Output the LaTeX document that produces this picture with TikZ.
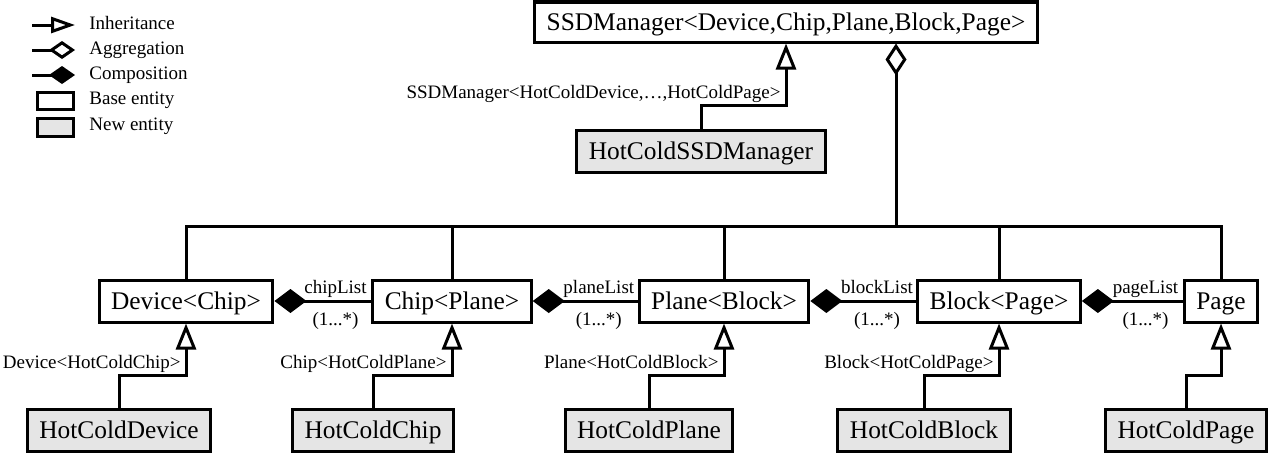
\documentclass[tikz,border=0pt]{standalone}
\usepackage{fontspec}
\setmainfont{Liberation Serif}
\usetikzlibrary{arrows.meta}

\begin{document}
\begin{tikzpicture}[x=0.5pt,y=-0.5pt,
        base/.style={draw, line width=1.5pt, fill=white, inner xsep=6pt, minimum height=21pt, text height=8.6pt, text depth=0pt, font=\fontsize{12.7}{15}\selectfont},
        new/.style={base, fill=gray!20},
        lbl/.style={font=\fontsize{9.5}{11}\selectfont, inner xsep=2pt, inner ysep=1pt, text height=6.6pt, text depth=2pt},
        conn/.style={line width=1.5pt},
        inh/.style={conn, -{Triangle[open, fill=white, length=13pt, width=10pt]}},
        agg/.style={conn, -{Diamond[open, fill=white, length=16pt, width=10.5pt]}},
        comp/.style={conn, {Diamond[length=16pt, width=12pt]}-}]
    \useasboundingbox (0,0) rectangle (1272,455);
    % legend
    \node[lbl, anchor=west] (linh) at (85,25) {Inheritance};
    \node[lbl, anchor=west] (lagg) at (85,50) {Aggregation};
    \node[lbl, anchor=west] (lcomp) at (85,75) {Composition};
    \node[lbl, anchor=west] (lbasetxt) at (85,100) {Base entity};
    \node[lbl, anchor=west] (lnewtxt) at (85,126) {New entity};
    \draw[conn, -{Triangle[open, fill=white, length=12pt, width=8pt]}] (32,25) -- (75,25);
    \draw[conn, -{Diamond[open, fill=white, length=13pt, width=9pt]}] (32,50) -- (75,50);
    \draw[conn, -{Diamond[length=13pt, width=9pt]}] (32,75) -- (75,75);
    \node[base, minimum width=18pt, minimum height=8.5pt, text height=0pt, inner sep=0pt] (lbase) at (55,101) {};
    \node[new, minimum width=18pt, minimum height=9pt, text height=0pt, inner sep=0pt] (lnew) at (55,127) {};
    % classes
    \node[base, minimum height=20pt] (ssd) at (786,22) {SSDManager<Device,Chip,Plane,Block,Page>};
    \node[new] (hssd) at (701,151) {HotColdSSDManager};
    \node[base] (dev) at (186,301) {Device<Chip>};
    \node[base] (chip) at (452,301) {Chip<Plane>};
    \node[base] (plane) at (724,301) {Plane<Block>};
    \node[base] (block) at (999,301) {Block<Page>};
    \node[base] (page) at (1221,301) {Page};
    \node[new] (hdev) at (119,430) {HotColdDevice};
    \node[new] (hchip) at (373,430) {HotColdChip};
    \node[new] (hplane) at (649,430) {HotColdPlane};
    \node[new] (hblock) at (924,430) {HotColdBlock};
    \node[new] (hpage) at (1186,430) {HotColdPage};
    % aggregation bus
    \coordinate (bus) at (896,226);
    \draw[conn] (dev.north) |- (bus) -| (page.north);
    \draw[conn] (chip.north) -- (chip.north |- bus);
    \draw[conn] (plane.north) -- (plane.north |- bus);
    \draw[conn] (block.north) -- (block.north |- bus);
    \draw[agg] (bus) -- (bus |- ssd.south);
    % composition
    \draw[comp] (dev.east) -- node[pos=.63, above, lbl]{chipList} node[pos=.63, below=4pt, lbl]{(1...*)} (chip.west);
    \draw[comp] (chip.east) -- node[pos=.63, above, lbl]{planeList} node[pos=.63, below=4pt, lbl]{(1...*)} (plane.west);
    \draw[comp] (plane.east) -- node[pos=.63, above, lbl]{blockList} node[pos=.63, below=4pt, lbl]{(1...*)} (block.west);
    \draw[comp] (block.east) -- node[pos=.63, above, lbl]{pageList} node[pos=.63, below=4pt, lbl]{(1...*)} (page.west);
    % inheritance
    \draw[inh] (hssd.north) -- ++(0,-23) -| node[pos=.5, above left, lbl]{SSDManager<HotColdDevice,…,HotColdPage>} (ssd.south);
    \draw[inh] (hdev.north) -- ++(0,-32) -| node[pos=.5, above left, lbl]{Device<HotColdChip>} (dev.south);
    \draw[inh] (hchip.north) -- ++(0,-32) -| node[pos=.5, above left, lbl]{Chip<HotColdPlane>} (chip.south);
    \draw[inh] (hplane.north) -- ++(0,-32) -| node[pos=.5, above left, lbl]{Plane<HotColdBlock>} (plane.south);
    \draw[inh] (hblock.north) -- ++(0,-32) -| node[pos=.5, above left, lbl]{Block<HotColdPage>} (block.south);
    \draw[inh] (hpage.north) -- ++(0,-32) -| (page.south);
\end{tikzpicture}
\end{document}
